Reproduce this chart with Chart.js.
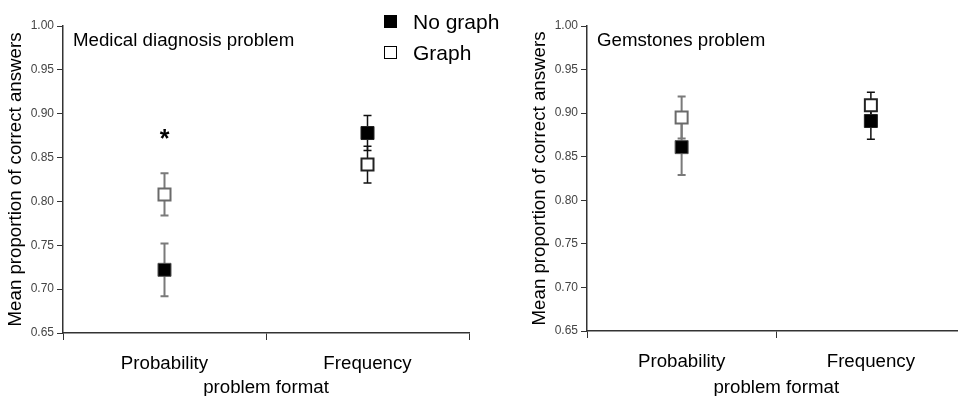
<!DOCTYPE html>
<html>
<head>
<meta charset="utf-8">
<script src="https://cdn.jsdelivr.net/npm/chart.js@4/dist/chart.umd.min.js"></script>
<style>
  html, body { margin: 0; padding: 0; width: 958px; height: 396px; overflow: hidden; background: #fff; }
  body { position: relative; font-family: "Liberation Sans", Arial, sans-serif; }
  #leftChart { position: absolute; left: 0; top: 0; width: 480px; height: 396px; }
  #rightChart { position: absolute; left: 480px; top: 0; width: 496px; height: 396px; }
  #legend { position: absolute; left: 384px; top: 6px; font-size: 21px; line-height: 31px; color: #000; }
  .item { display: flex; align-items: center; }
  .sw { width: 11px; height: 11px; border: 1.5px solid #000; margin-right: 16px; }
</style>
</head>
<body>
<canvas id="leftChart" width="480" height="396"></canvas>
<canvas id="rightChart" width="496" height="396"></canvas>
<div id="legend"></div>
<script>
// categories and series
const formats = ['Probability', 'Frequency'];
const seriesNames = ['No graph', 'Graph'];

// Medical diagnosis problem
const medNoGraph = [0.722, 0.878];
const medNoGraphErr = [0.030, 0.020];
const medGraph = [0.808, 0.842];
const medGraphErr = [0.024, 0.021];
const medSig = [0.876, null]; // asterisk above Probability

// Gemstones problem
const gemNoGraph = [0.861, 0.891];
const gemNoGraphErr = [0.032, 0.021];
const gemGraph = [0.895, 0.909];
const gemGraphErr = [0.024, 0.015];
const gemSig = [null, null];

const yTicks = [0.65, 0.70, 0.75, 0.80, 0.85, 0.90, 0.95, 1.00];

const FONT = '"Liberation Sans", Arial, sans-serif';
const errColors = ['#7a7a7a', '#111'];

// legend (html)
const legend = document.getElementById('legend');
seriesNames.forEach((name, i) => {
  const row = document.createElement('div');
  row.className = 'item';
  const sw = document.createElement('div');
  sw.className = 'sw';
  sw.style.background = i === 0 ? '#000' : '#fff';
  const txt = document.createElement('span');
  txt.textContent = name;
  row.appendChild(sw);
  row.appendChild(txt);
  legend.appendChild(row);
});

// error bars under the markers
const errorBars = {
  id: 'errorBars',
  beforeDatasetsDraw(chart) {
    const { ctx, scales: { x, y } } = chart;
    ctx.save();
    chart.data.datasets.forEach(ds => {
      ds.data.forEach((v, i) => {
        const e = ds.errors[i];
        const px = x.getPixelForValue(i);
        const top = y.getPixelForValue(v + e);
        const bot = y.getPixelForValue(v - e);
        ctx.strokeStyle = errColors[i];
        ctx.lineWidth = i === 0 ? 2 : 1.5;
        ctx.beginPath();
        ctx.moveTo(px, top); ctx.lineTo(px, bot);
        ctx.moveTo(px - 4, top); ctx.lineTo(px + 4, top);
        ctx.moveTo(px - 4, bot); ctx.lineTo(px + 4, bot);
        ctx.stroke();
      });
    });
    ctx.restore();
  }
};

// panel title + significance asterisk
const panelText = {
  id: 'panelText',
  afterDatasetsDraw(chart, args, opts) {
    const { ctx, chartArea, scales: { x, y } } = chart;
    ctx.save();
    ctx.fillStyle = '#000';
    ctx.font = '18.7px ' + FONT;
    ctx.textBaseline = 'alphabetic';
    ctx.textAlign = 'left';
    ctx.fillText(opts.title, chartArea.left + 10, chartArea.top + 20);
    ctx.font = 'bold 25px ' + FONT;
    ctx.textAlign = 'center';
    (opts.sig || []).forEach((v, i) => {
      if (v == null) return;
      ctx.fillText('*', x.getPixelForValue(i), y.getPixelForValue(v) + 12);
    });
    ctx.restore();
  }
};

function makeChart(id, title, noGraph, noGraphErr, graph, graphErr, sig, pad, xHeight) {
  const ctx = document.getElementById(id).getContext('2d');
  return new Chart(ctx, {
    type: 'line',
    data: {
      labels: formats,
      datasets: [{
        label: seriesNames[0],
        data: noGraph,
        errors: noGraphErr,
        showLine: false,
        pointStyle: 'rect',
        pointRadius: 9.2,
        pointHoverRadius: 9.2,
        pointBackgroundColor: '#000',
        pointBorderColor: ['#555', '#222'],
        pointBorderWidth: 1
      }, {
        label: seriesNames[1],
        data: graph,
        errors: graphErr,
        showLine: false,
        pointStyle: 'rect',
        pointRadius: 8.5,
        pointHoverRadius: 8.5,
        pointBackgroundColor: '#fff',
        pointBorderColor: ['#6a6a6a', '#222'],
        pointBorderWidth: 2
      }]
    },
    options: {
      responsive: false,
      animation: false,
      events: [],
      layout: { padding: pad },
      plugins: {
        legend: { display: false },
        tooltip: { enabled: false },
        panelText: { title: title, sig: sig }
      },
      scales: {
        x: {
          type: 'category',
          offset: true,
          afterFit: s => { s.height = xHeight; },
          grid: { offset: true, drawOnChartArea: false, drawTicks: true, tickLength: 7, color: '#333' },
          border: { color: '#333', width: 1.5 },
          ticks: { color: '#000', font: { family: FONT, size: 18.7 }, padding: 13 },
          title: { display: true, text: 'problem format', color: '#000', font: { family: FONT, size: 18.7, lineHeight: 0.9 }, padding: { top: 0, bottom: 0 } }
        },
        y: {
          min: 0.65,
          max: 1.0,
          afterFit: s => { s.width = 63; },
          afterBuildTicks: s => { s.ticks = yTicks.map(v => ({ value: v })); },
          grid: { drawOnChartArea: false, drawTicks: true, tickLength: 6, color: '#333' },
          border: { color: '#333', width: 1.5 },
          ticks: { color: '#444', font: { family: FONT, size: 12 }, padding: 3, callback: v => Number(v).toFixed(2) },
          title: { display: true, text: 'Mean proportion of correct answers', color: '#000', font: { family: FONT, size: 18.7 }, padding: { top: 5, bottom: 0 } }
        }
      }
    },
    plugins: [errorBars, panelText]
  });
}

makeChart('leftChart', 'Medical diagnosis problem', medNoGraph, medNoGraphErr, medGraph, medGraphErr, medSig,
  { left: 0, right: 11, top: 26, bottom: 0 }, 63);
makeChart('rightChart', 'Gemstones problem', gemNoGraph, gemNoGraphErr, gemGraph, gemGraphErr, gemSig,
  { left: 44, right: 5, top: 26, bottom: 0 }, 65);
</script>
</body>
</html>
